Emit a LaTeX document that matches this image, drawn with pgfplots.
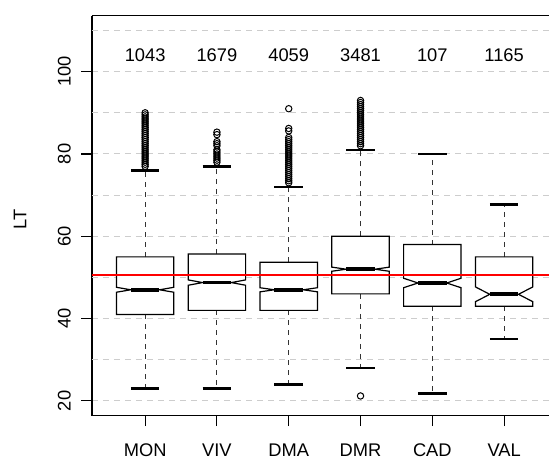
\documentclass[border=0pt]{standalone}
\usepackage{pgfplots}
\pgfplotsset{compat=1.18}
\usepackage{fontspec}
\setmainfont{Liberation Sans}
\definecolor{gridgray}{RGB}{205,205,205}
\begin{document}
\fontsize{18.3}{22}\selectfont
\begin{tikzpicture}
\begin{axis}[
  scale only axis, width=457pt, height=400pt,
  xmin=0.26, xmax=6.625, ymin=16.4, ymax=113.6,
  axis x line*=box, axis y line*=left,
  x axis line style={-, line width=1.1pt},
  y axis line style={-, line width=1.1pt},
  xtick={1,2,3,4,5,6},
  xticklabels={MON,VIV,DMA,DMR,CAD,VAL},
  ytick={20,40,60,80,100},
  xtick pos=left, ytick pos=left,
  tick align=outside,
  major tick length=10.5pt,
  every tick/.style={black, line width=1.1pt},
  tick label style={font=\fontsize{18.3}{22}\selectfont},
  /pgf/number format/assume math mode=true,
  yticklabel style={rotate=90, anchor=south},
  xticklabel style={anchor=north},
  yticklabel shift=4.5pt,
  xticklabel shift=11pt,
  ymajorgrids,
  extra y ticks={30,50,70,90,110},
  extra y tick labels={},
  extra y tick style={major tick length=0pt, ymajorgrids},
  grid style={gridgray, dashed, dash pattern=on 6pt off 5pt, line width=1pt},
  ylabel={LT},
  ylabel style={at={(axis description cs:-0.1575,0.49)}, anchor=center, rotate=0, font=\fontsize{18.3}{22}\selectfont},
  clip=false,
]
% whiskers (dashed)
\pgfplotsset{whisk/.style={black!80, line width=1.1pt, dash pattern=on 5pt off 5pt}}
\addplot[whisk] coordinates {(1,55) (1,76)};
\addplot[whisk] coordinates {(1,41) (1,23)};
\addplot[whisk] coordinates {(2,55.7) (2,77)};
\addplot[whisk] coordinates {(2,42) (2,23)};
\addplot[whisk] coordinates {(3,53.7) (3,72)};
\addplot[whisk] coordinates {(3,42) (3,24)};
\addplot[whisk] coordinates {(4,60) (4,81)};
\addplot[whisk] coordinates {(4,46) (4,28)};
\addplot[whisk] coordinates {(5,58) (5,80)};
\addplot[whisk] coordinates {(5,43) (5,21.8)};
\addplot[whisk] coordinates {(6,55) (6,67.7)};
\addplot[whisk] coordinates {(6,43) (6,35)};
% caps
\pgfplotsset{cap/.style={black, line width=2.4pt}}
\addplot[cap] coordinates {(0.8,76) (1.2,76)};
\addplot[cap] coordinates {(0.8,23) (1.2,23)};
\addplot[cap] coordinates {(1.8,77) (2.2,77)};
\addplot[cap] coordinates {(1.8,23) (2.2,23)};
\addplot[cap] coordinates {(2.8,72) (3.2,72)};
\addplot[cap] coordinates {(2.8,24) (3.2,24)};
\addplot[cap] coordinates {(3.8,81) (4.2,81)};
\addplot[cap] coordinates {(3.8,28) (4.2,28)};
\addplot[cap] coordinates {(4.8,80) (5.2,80)};
\addplot[cap] coordinates {(4.8,21.8) (5.2,21.8)};
\addplot[cap] coordinates {(5.8,67.7) (6.2,67.7)};
\addplot[cap] coordinates {(5.8,35) (6.2,35)};
% notched boxes
\pgfplotsset{nbox/.style={black, fill=white, line width=1.2pt, line join=miter}}
\addplot[nbox] coordinates {(0.6,41) (0.6,46.4) (0.8,47) (0.6,47.6) (0.6,55) (1.4,55) (1.4,47.6) (1.2,47) (1.4,46.4) (1.4,41)} -- cycle;
\addplot[nbox] coordinates {(1.6,42) (1.6,48.1) (1.8,48.75) (1.6,49.4) (1.6,55.7) (2.4,55.7) (2.4,49.4) (2.2,48.75) (2.4,48.1) (2.4,42)} -- cycle;
\addplot[nbox] coordinates {(2.6,42) (2.6,46.5) (2.8,47) (2.6,47.5) (2.6,53.7) (3.4,53.7) (3.4,47.5) (3.2,47) (3.4,46.5) (3.4,42)} -- cycle;
\addplot[nbox] coordinates {(3.6,46) (3.6,51.5) (3.8,52) (3.6,52.5) (3.6,60) (4.4,60) (4.4,52.5) (4.2,52) (4.4,51.5) (4.4,46)} -- cycle;
\addplot[nbox] coordinates {(4.6,43) (4.6,47.5) (4.8,48.65) (4.6,49.8) (4.6,58) (5.4,58) (5.4,49.8) (5.2,48.65) (5.4,47.5) (5.4,43)} -- cycle;
\addplot[nbox] coordinates {(5.6,43) (5.6,44.1) (5.8,45.9) (5.6,47.7) (5.6,55) (6.4,55) (6.4,47.7) (6.2,45.9) (6.4,44.1) (6.4,43)} -- cycle;
% medians
\pgfplotsset{med/.style={black, line width=3.8pt}}
\addplot[med] coordinates {(0.8,47) (1.2,47)};
\addplot[med] coordinates {(1.8,48.75) (2.2,48.75)};
\addplot[med] coordinates {(2.8,47) (3.2,47)};
\addplot[med] coordinates {(3.8,52) (4.2,52)};
\addplot[med] coordinates {(4.8,48.65) (5.2,48.65)};
\addplot[med] coordinates {(5.8,45.9) (6.2,45.9)};
% outliers
\pgfplotsset{outl/.style={only marks, mark=o, mark size=3.2pt, mark options={black, line width=1pt}}}
\addplot[outl] coordinates {(1,77) (1,77.5) (1,78) (1,78.5) (1,79) (1,79.5) (1,80) (1,80.5) (1,81) (1,81.5) (1,82) (1,82.5) (1,83) (1,83.5) (1,84) (1,84.5) (1,85) (1,85.5) (1,86) (1,86.5) (1,87) (1,87.5) (1,88) (1,88.5) (1,89) (1,89.5) (1,90)};
\addplot[outl] coordinates {(2,78) (2,78.5) (2,79) (2,79.5) (2,80) (2,80.5) (2,81) (2,82) (2,82.5) (2,83) (2,84.7) (2,85.3)};
\addplot[outl] coordinates {(3,73) (3,73.5) (3,74) (3,74.5) (3,75) (3,75.5) (3,76) (3,76.5) (3,77) (3,77.5) (3,78) (3,78.5) (3,79) (3,79.5) (3,80) (3,80.5) (3,81) (3,81.5) (3,82) (3,82.5) (3,83) (3,83.5) (3,84) (3,85.6) (3,86.2) (3,91)};
\addplot[outl] coordinates {(4,21.2) (4,82) (4,82.5) (4,83) (4,83.5) (4,84) (4,84.5) (4,85) (4,85.5) (4,86) (4,86.5) (4,87) (4,87.5) (4,88) (4,88.5) (4,89) (4,89.5) (4,90) (4,90.5) (4,91) (4,91.5) (4,92) (4,92.5) (4,93)};
% reference line
\addplot[red, line width=2.6pt] coordinates {(0.26,50.55) (6.625,50.55)};
% counts
\node[inner sep=0pt, anchor=center] at (axis cs:1,103.9) {1043};
\node[inner sep=0pt, anchor=center] at (axis cs:2,103.9) {1679};
\node[inner sep=0pt, anchor=center] at (axis cs:3,103.9) {4059};
\node[inner sep=0pt, anchor=center] at (axis cs:4,103.9) {3481};
\node[inner sep=0pt, anchor=center] at (axis cs:5,103.9) {107};
\node[inner sep=0pt, anchor=center] at (axis cs:6,103.9) {1165};
\end{axis}
\pgfresetboundingbox
\path ([shift={(-92pt,-44.3pt)}]current axis.south west) rectangle ([shift={(0pt,15.7pt)}]current axis.north east);
\end{tikzpicture}
\end{document}
